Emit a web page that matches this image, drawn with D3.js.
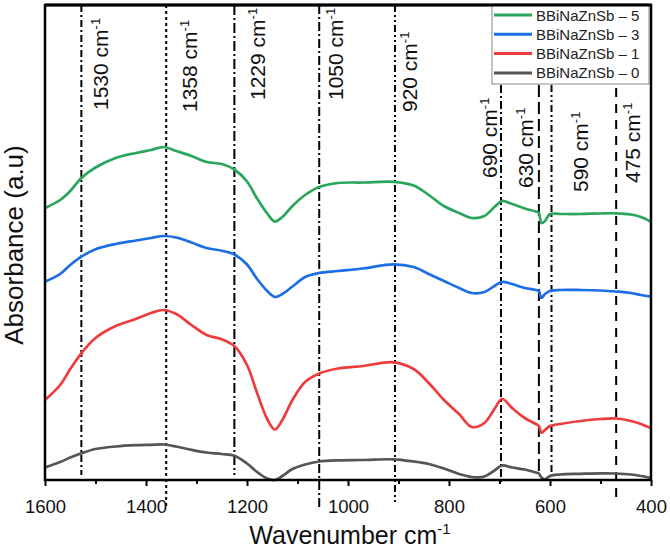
<!DOCTYPE html>
<html>
<head>
<meta charset="utf-8">
<script src="https://cdn.jsdelivr.net/npm/d3@7"></script>
<style>
  body { margin: 0; background: #fff; }
  svg { display: block; font-family: "Liberation Sans", Arial, sans-serif; }
</style>
</head>
<body>
<div id="main"></div>
<script>
// wavenumber grid (cm-1) shared by every spectrum
var wavenumber = [1600, 1570, 1550, 1528, 1500, 1460, 1420, 1390, 1365, 1340, 1310, 1280, 1250, 1225,
  1200, 1180, 1160, 1145, 1130, 1110, 1085, 1057, 1020, 970, 910, 870, 840, 810, 780, 755, 730, 710,
  695, 675, 650, 628, 622, 617, 610, 600, 580, 540, 500, 470, 440, 420, 400];

var bb5 = [2.72, 2.80, 2.89, 3.02, 3.125, 3.22, 3.27, 3.30, 3.33, 3.29, 3.24, 3.18, 3.16, 3.105,
  2.985, 2.815, 2.665, 2.585, 2.63, 2.74, 2.85, 2.93, 2.97, 2.975, 2.982, 2.945, 2.85, 2.74, 2.67, 2.62, 2.64, 2.73,
  2.79, 2.76, 2.715, 2.685, 2.67, 2.57, 2.59, 2.66, 2.66, 2.66, 2.665, 2.667, 2.655, 2.63, 2.583];
var bb3 = [1.983, 2.06, 2.15, 2.233, 2.307, 2.36, 2.395, 2.42, 2.44, 2.425, 2.375, 2.32, 2.293, 2.255,
  2.155, 2.01, 1.89, 1.83, 1.86, 1.935, 2.03, 2.07, 2.09, 2.115, 2.157, 2.13, 2.06, 1.99, 1.92, 1.87, 1.88, 1.94,
  1.98, 1.96, 1.92, 1.90, 1.89, 1.82, 1.86, 1.89, 1.90, 1.90, 1.895, 1.885, 1.87, 1.85, 1.833];
var bb1 = [0.80, 0.95, 1.11, 1.267, 1.42, 1.54, 1.61, 1.67, 1.70, 1.66, 1.55, 1.45, 1.407, 1.34,
  1.15, 0.87, 0.61, 0.505, 0.60, 0.80, 0.98, 1.065, 1.115, 1.14, 1.177, 1.11, 0.97, 0.80, 0.66, 0.53, 0.57, 0.71,
  0.81, 0.72, 0.62, 0.56, 0.54, 0.473, 0.50, 0.54, 0.56, 0.59, 0.61, 0.615, 0.59, 0.56, 0.517];
var bb0 = [0.125, 0.18, 0.225, 0.267, 0.31, 0.335, 0.348, 0.352, 0.355, 0.335, 0.302, 0.275, 0.26, 0.242,
  0.165, 0.08, 0.015, 0.0, 0.04, 0.11, 0.155, 0.185, 0.197, 0.20, 0.207, 0.185, 0.16, 0.115, 0.06, 0.03, 0.035, 0.095,
  0.145, 0.125, 0.105, 0.075, 0.065, 0.025, 0.007, 0.04, 0.055, 0.062, 0.067, 0.065, 0.055, 0.04, 0.02];

var seriesNames = ["BBiNaZnSb \u2013 5", "BBiNaZnSb \u2013 3", "BBiNaZnSb \u2013 1", "BBiNaZnSb \u2013 0"];
var seriesColors = ["#2aa55c", "#1b6ee6", "#ee3b3b", "#555555"];
var seriesValues = [bb5, bb3, bb1, bb0];

var xTicks = [1600, 1400, 1200, 1000, 800, 600, 400];
var xMinorTicks = [1500, 1300, 1100, 900, 700, 500];

// band markers: where the line is drawn and what it is labelled
var markerPos = [1528, 1360, 1225, 1057, 907, 697, 622, 597, 469];
var markerLabel = ["1530", "1358", "1229", "1050", "920", "690", "630", "590", "475"];

// marker styling (dash, vertical extent, label placement)
var markerDash = ["7,3,2,3", "3,3", "10,3,2,3", "9,3,2,3", "7,3,2,3,2,3", "8,3,2,3", "12,5", "7,3,2,3,2,3", "9,7"];
var markerTop = [5, 5, 5, 5, 5, 85, 85, 85, 88];
var markerBottom = [475, 507, 475, 507, 503, 483, 473, 472, 503];
var labelBaseX = [108, 197, 265, 343, 417, 497, 533, 588, 640];
var labelStartY = [110, 112, 100, 100, 112, 178, 188, 192, 183];

var width = 670, height = 551;
var plotLeft = 45, plotRight = 651, plotTop = 5, plotBottom = 480;

var svg = d3.select("#main").append("svg")
  .attr("width", width).attr("height", height);

var x = d3.scaleLinear().domain([1600, 400]).range([plotLeft, plotRight]);
var y = d3.scaleLinear().domain([0, 4.75]).range([plotBottom, plotTop]);

// vertical band lines
for (var i = 0; i < markerPos.length; i++) {
  svg.append("line")
    .attr("x1", x(markerPos[i])).attr("x2", x(markerPos[i]))
    .attr("y1", markerTop[i]).attr("y2", markerBottom[i])
    .attr("stroke", "black").attr("stroke-width", 2)
    .attr("stroke-dasharray", markerDash[i]);
  var t = svg.append("text")
    .attr("transform", "translate(" + labelBaseX[i] + "," + labelStartY[i] + ") rotate(-90)")
    .style("font-size", "21px").attr("fill", "#111");
  t.append("tspan").text(markerLabel[i] + " cm");
  t.append("tspan").text("-1").attr("dy", -8).style("font-size", "13px");
}

// spectra
var line = d3.line().curve(d3.curveCatmullRom.alpha(0.5));
seriesValues.forEach(function (vals, k) {
  var pts = wavenumber.map(function (w, j) { return [x(w), y(vals[j])]; });
  svg.append("path")
    .attr("d", line(pts))
    .attr("fill", "none")
    .attr("stroke", seriesColors[k])
    .attr("stroke-width", 2.7)
    .attr("stroke-linejoin", "round");
});

// axis ticks and labels
var xAxis = d3.axisBottom(x).tickValues(xTicks).tickSize(6).tickFormat(d3.format("d"));
var gx = svg.append("g").attr("transform", "translate(0," + plotBottom + ")").call(xAxis);
gx.select(".domain").remove();
gx.selectAll(".tick line").attr("stroke-width", 2);
gx.selectAll(".tick text").attr("dy", 0).attr("y", 33)
  .style("font-size", "18.5px").style("font-family", "'Liberation Sans', Arial, sans-serif").attr("fill", "#111");
var gxm = svg.append("g").attr("transform", "translate(0," + plotBottom + ")")
  .call(d3.axisBottom(x).tickValues(xMinorTicks).tickSize(4).tickFormat(""));
gxm.select(".domain").remove();
gxm.selectAll(".tick line").attr("stroke-width", 2);

// frame
svg.append("rect")
  .attr("x", plotLeft).attr("y", plotTop)
  .attr("width", plotRight - plotLeft).attr("height", plotBottom - plotTop)
  .attr("fill", "none").attr("stroke", "black").attr("stroke-width", 2.5);

// legend
var lg = svg.append("g");
lg.append("rect").attr("x", 492).attr("y", 5).attr("width", 157).attr("height", 79)
  .attr("fill", "white").attr("stroke", "#888").attr("stroke-width", 1);
seriesNames.forEach(function (name, k) {
  var cy = 15 + k * 19.3;
  lg.append("line").attr("x1", 494).attr("x2", 532).attr("y1", cy).attr("y2", cy)
    .attr("stroke", seriesColors[k]).attr("stroke-width", 3);
  lg.append("text").attr("x", 536).attr("y", cy + 5.5).text(name)
    .style("font-size", "15px").attr("fill", "#222");
});
svg.append("line").attr("x1", plotLeft).attr("x2", plotRight).attr("y1", plotTop).attr("y2", plotTop)
  .attr("stroke", "black").attr("stroke-width", 3);

// axis titles
var xt = svg.append("text").attr("x", 350).attr("y", 544).attr("text-anchor", "middle")
  .style("font-size", "25px").attr("fill", "#111");
xt.append("tspan").text("Wavenumber cm");
xt.append("tspan").text("-1").attr("dy", -10).style("font-size", "15px");

svg.append("text")
  .attr("transform", "translate(23,245) rotate(-90)")
  .attr("text-anchor", "middle")
  .style("font-size", "26px").attr("fill", "#111")
  .text("Absorbance (a.u)");
</script>
</body>
</html>
